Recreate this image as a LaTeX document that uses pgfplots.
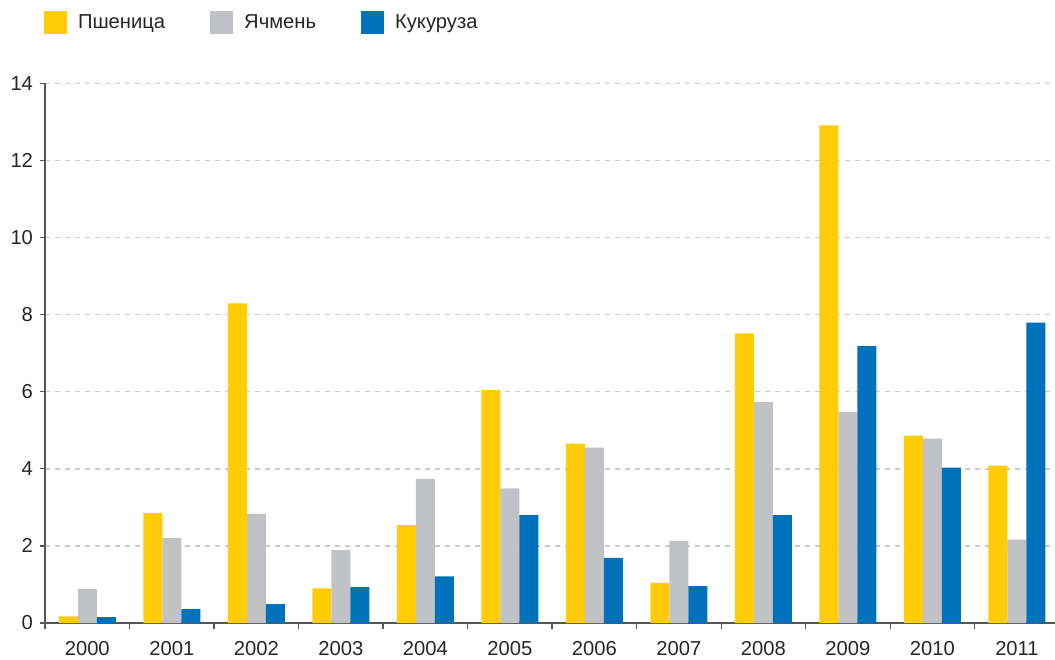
\documentclass[border=0pt]{standalone}
\usepackage{fontspec}
\setmainfont{Liberation Sans}
\usepackage{pgfplots}
\pgfplotsset{compat=1.18}
\definecolor{cwheat}{HTML}{FFCC05}
\definecolor{cbarley}{HTML}{C1C2C5}
\definecolor{ccorn}{HTML}{0072BB}
\definecolor{ctext}{HTML}{262626}
\definecolor{caxis}{HTML}{555555}
\definecolor{cgrid}{HTML}{CCCCCC}
\newcommand{\lblfont}{\fontsize{20.2bp}{24bp}\selectfont}
\pgfplotsset{sqlegend/.style={legend image code/.code={\fill[##1] (0bp,-11.5bp) rectangle (23bp,11.5bp);}}}
\begin{document}
\begin{tikzpicture}
\begin{axis}[name=ax, scale only axis, width=1010bp, height=539.7bp,
  xmin=-0.5, xmax=11.45, ymin=0, ymax=14,
  ybar=0pt, bar width=19bp,
  axis x line*=bottom, axis y line*=left,
  axis line style={caxis, line width=1.3bp},
  xtick={-0.5,0.5,...,10.5},
  xticklabels={},
  extra x ticks={0,...,11},
  extra x tick labels={2000,2001,2002,2003,2004,2005,2006,2007,2008,2009,2010,2011},
  extra x tick style={major tick length=0pt, tick style={draw=none},
    xticklabel style={yshift=-15bp}},
  ytick={0,2,...,14},
  tick align=outside,
  major tick length=5.5bp,
  tick style={caxis, line width=1.3bp},
  ymajorgrids,
  major grid style={cgrid, dash pattern=on 5bp off 5bp, line width=1.5bp},
  /pgf/number format/assume math mode=true,
  tick label style={font=\lblfont, text=ctext},
  yticklabel style={xshift=-3bp},
  legend columns=3,
  legend style={at={(rel axis cs:0,1)}, anchor=west, yshift=60.8bp, xshift=-1bp,
    draw=none, fill=none, inner sep=0pt, outer sep=0pt, font=\lblfont, text=ctext,
    nodes={inner xsep=0pt},
    /tikz/every odd column/.append style={column sep=11bp},
    /tikz/every even column/.append style={column sep=45bp}},
]
\addplot[sqlegend, fill=cwheat, draw=none] coordinates {(0,0.17) (1,2.86) (2,8.29) (3,0.90) (4,2.54) (5,6.04) (6,4.65) (7,1.04) (8,7.51) (9,12.91) (10,4.86) (11,4.08)};
\addplot[sqlegend, fill=cbarley, draw=none] coordinates {(0,0.88) (1,2.20) (2,2.83) (3,1.89) (4,3.74) (5,3.49) (6,4.55) (7,2.13) (8,5.73) (9,5.47) (10,4.78) (11,2.16)};
\addplot[sqlegend, fill=ccorn, draw=none] coordinates {(0,0.15) (1,0.36) (2,0.49) (3,0.93) (4,1.21) (5,2.80) (6,1.69) (7,0.96) (8,2.80) (9,7.18) (10,4.03) (11,7.79)};
\legend{Пшеница, Ячмень, Кукуруза}
\end{axis}
\pgfresetboundingbox
\path ([shift={(-45bp,-36bp)}]ax.south west) rectangle ([shift={(0bp,83.3bp)}]ax.north east);
\end{tikzpicture}
\end{document}
